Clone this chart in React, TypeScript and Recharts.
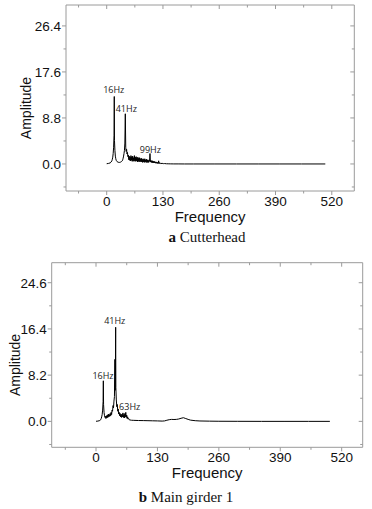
import React from 'react';
import { LineChart, Line, XAxis, YAxis, ReferenceDot } from 'recharts';

// spectrum (a) cutterhead
const cutterFreq = [
  0, 4, 8, 10, 12, 13, 14, 15, 16, 17,
  17.5, 18, 19, 20, 21, 22, 24, 26, 28, 30,
  32, 34, 36, 37, 38, 39, 40, 41, 42, 43,
  44, 45, 46, 47, 48, 49, 50, 51, 52, 53,
  54, 55, 56, 57, 58, 59, 60, 61, 62, 63,
  64, 65, 66, 67, 68, 69, 70, 71, 72, 73,
  74, 75, 76, 77, 78, 79, 80, 81, 82, 83,
  84, 85, 86, 87, 88, 89, 90, 91, 92, 93,
  94, 95, 96, 97, 98, 99, 100, 101, 102, 103,
  104, 105, 106, 107, 108, 109, 110, 111, 112, 113,
  114, 115, 116, 117, 118, 119, 120, 121, 122, 123,
  124, 125, 128, 131, 134, 138, 142, 148, 155, 165,
  180, 200, 250, 300, 350, 400, 450, 505,
];
const cutterAmp = [
  0.05, 0.1, 0.2, 0.35, 0.6, 0.9, 1.3, 2.0, 3.2, 5.5,
  12.9, 4.5, 2.6, 1.5, 1.0, 0.7, 0.45, 0.35, 0.3, 0.3,
  0.35, 0.45, 0.6, 0.8, 1.1, 1.5, 2.0, 2.6, 4.0, 9.6,
  3.2, 2.4, 2.8, 1.9, 2.2, 1.4, 1.7, 0.8, 1.5, 0.7,
  1.3, 0.6, 1.6, 0.7, 1.4, 0.5, 1.5, 0.6, 1.2, 0.5,
  1.6, 0.6, 1.3, 0.5, 1.4, 0.6, 1.2, 0.4, 1.3, 0.5,
  1.1, 0.4, 1.2, 0.5, 1.0, 0.4, 1.1, 0.4, 0.9, 0.3,
  1.0, 0.4, 0.9, 0.3, 1.0, 0.4, 0.8, 0.3, 0.9, 0.3,
  0.8, 0.3, 0.7, 0.3, 0.8, 0.5, 2.0, 0.4, 0.7, 0.3,
  0.6, 0.25, 0.6, 0.2, 0.5, 0.2, 0.5, 0.2, 0.4, 0.15,
  0.4, 0.15, 0.35, 0.1, 0.3, 0.1, 0.6, 0.1, 0.25, 0.08,
  0.2, 0.07, 0.12, 0.06, 0.08, 0.04, 0.03, 0.02, 0.01, 0.01,
  0, 0, 0, 0, 0, 0, 0, 0,
];

// spectrum (b) main girder 1
const girderFreq = [
  0, 4, 8, 10, 11, 12, 13, 14, 15, 15.5,
  16, 17, 18, 19, 20, 21, 22, 23, 24, 25,
  26, 27, 28, 29, 30, 31, 32, 33, 34, 35,
  36, 37, 38, 39, 40, 40.5, 41, 41.6, 42, 43,
  44, 45, 46, 47, 48, 49, 50, 51, 52, 53,
  54, 55, 56, 57, 58, 59, 60, 61, 62, 63,
  64, 65, 66, 67, 68, 69, 70, 72, 75, 80,
  90, 100, 110, 120, 130, 140, 145, 150, 155, 160,
  165, 170, 175, 180, 185, 190, 195, 200, 210, 220,
  240, 260, 300, 350, 400, 450, 495,
];
const girderAmp = [
  0.02, 0.05, 0.15, 0.3, 0.5, 0.8, 1.2, 2.0, 3.5, 7.2,
  3.0, 1.6, 1.0, 0.7, 0.9, 0.5, 1.0, 0.6, 1.1, 0.7,
  1.3, 0.8, 1.2, 0.9, 1.4, 1.0, 1.6, 1.2, 2.0, 1.8,
  2.8, 2.4, 3.6, 4.4, 11.0, 5.5, 8.0, 16.7, 6.0, 3.8,
  2.6, 3.0, 1.8, 2.2, 1.3, 1.6, 1.0, 1.4, 0.8, 1.2,
  0.7, 1.3, 0.8, 1.5, 0.7, 1.2, 0.6, 1.4, 0.8, 1.6,
  0.7, 1.1, 0.5, 0.8, 0.4, 0.5, 0.3, 0.25, 0.2, 0.18,
  0.15, 0.14, 0.12, 0.1, 0.08, 0.05, 0.08, 0.2, 0.3, 0.35,
  0.33, 0.35, 0.42, 0.55, 0.65, 0.5, 0.35, 0.22, 0.12, 0.07,
  0.04, 0.02, 0.01, 0, 0, 0, 0,
];

const freqTicks = [-65, 0, 65, 130, 195, 260, 325, 390, 455, 520];
const freqMajor = [0, 130, 260, 390, 520];
const cutterYTicks = [-4.4, 0, 4.4, 8.8, 13.2, 17.6, 22, 26.4];
const cutterYMajor = [0, 8.8, 17.6, 26.4];
const girderYTicks = [-4.1, 0, 4.1, 8.2, 12.3, 16.4, 20.5, 24.6];
const girderYMajor = [0, 8.2, 16.4, 24.6];

const cutterPeaks = [
  { f: 16.2, a: 14.2, text: '16Hz' },
  { f: 45.3, a: 10.5, text: '41Hz' },
  { f: 101, a: 2.7, text: '99Hz' },
];
const girderPeaks = [
  { f: 39.6, a: 17.8, text: '41Hz' },
  { f: 14.8, a: 8.0, text: '16Hz' },
  { f: 71.3, a: 2.5, text: '63Hz' },
];

const FRAME = '#9a9a9a';
const INK = '#111';
const SANS = 'Liberation Sans, Arial, sans-serif';

const bottomTick = (majors: number[]) => (p: any) => {
  const major = majors.includes(p.payload.value);
  return (
    <g>
      <line x1={p.x} x2={p.x} y1={p.y} y2={p.y + (major ? 4 : 2.5)} stroke={FRAME} />
      {major && (
        <text x={p.x} y={p.y + 15} textAnchor="middle" fontSize={13.5} fontFamily={SANS} fill={INK}>
          {p.payload.value}
        </text>
      )}
    </g>
  );
};

const topTick = (majors: number[]) => (p: any) => {
  const major = majors.includes(p.payload.value);
  return <line x1={p.x} x2={p.x} y1={p.y} y2={p.y + (major ? 4 : 2.5)} stroke={FRAME} />;
};

const leftTick = (majors: number[]) => (p: any) => {
  const major = majors.includes(p.payload.value);
  return (
    <g>
      <line x1={p.x - (major ? 4 : 2.5)} x2={p.x} y1={p.y} y2={p.y} stroke={FRAME} />
      {major && (
        <text x={p.x - 5} y={p.y + 5} textAnchor="end" fontSize={13.5} fontFamily={SANS} fill={INK}>
          {p.payload.value.toFixed(1)}
        </text>
      )}
    </g>
  );
};

const rightTick = (majors: number[]) => (p: any) => {
  const major = majors.includes(p.payload.value);
  return <line x1={p.x - (major ? 4 : 2.5)} x2={p.x} y1={p.y} y2={p.y} stroke={FRAME} />;
};

const freqLabel = ({ viewBox }: any) => (
  <text
    x={viewBox.x + viewBox.width / 2}
    y={viewBox.y + 31}
    textAnchor="middle"
    fontSize={15}
    fontFamily={SANS}
    fill={INK}
  >
    Frequency
  </text>
);

const ampLabel = (dx: number) => ({ viewBox }: any) => {
  const x = viewBox.x + viewBox.width - dx;
  const y = viewBox.y + viewBox.height / 2 + 10;
  return (
    <text
      x={x}
      y={y}
      transform={`rotate(-90 ${x} ${y})`}
      textAnchor="middle"
      dominantBaseline="central"
      fontSize={14}
      fontFamily={SANS}
      fill={INK}
    >
      Amplitude
    </text>
  );
};

interface SpectrumProps {
  freq: number[];
  amp: number[];
  width: number;
  height: number;
  margin: { top: number; right: number; bottom: number; left: number };
  yAxisWidth: number;
  xDomain: [number, number];
  yDomain: [number, number];
  yTicks: number[];
  yMajor: number[];
  peaks: { f: number; a: number; text: string }[];
  ampDx: number;
}

// top and right axes only carry the frame line and inward ticks
const Spectrum: React.FC<SpectrumProps> = ({
  freq, amp, width, height, margin, yAxisWidth, xDomain, yDomain, yTicks, yMajor, peaks, ampDx,
}) => {
  const data = freq.map((f, i) => ({ f, a: amp[i] }));
  return (
    <LineChart width={width} height={height} margin={margin}>
      <XAxis
        dataKey="f"
        type="number"
        domain={xDomain}
        allowDataOverflow
        ticks={freqTicks}
        interval={0}
        height={30}
        tickSize={0}
        tickMargin={0}
        tickLine={false}
        stroke={FRAME}
        tick={bottomTick(freqMajor)}
        label={{ content: freqLabel }}
      />
      <XAxis
        xAxisId="top"
        orientation="top"
        dataKey="f"
        type="number"
        domain={xDomain}
        allowDataOverflow
        ticks={freqTicks}
        interval={0}
        height={1}
        tickSize={0}
        tickMargin={0}
        tickLine={false}
        stroke={FRAME}
        tick={topTick(freqMajor)}
      />
      <YAxis
        type="number"
        domain={yDomain}
        allowDataOverflow
        ticks={yTicks}
        interval={0}
        width={yAxisWidth}
        tickSize={0}
        tickMargin={0}
        tickLine={false}
        stroke={FRAME}
        tick={leftTick(yMajor)}
        label={{ content: ampLabel(ampDx) }}
      />
      <YAxis
        yAxisId="right"
        orientation="right"
        type="number"
        domain={yDomain}
        allowDataOverflow
        ticks={yTicks}
        interval={0}
        width={1}
        tickSize={0}
        tickMargin={0}
        tickLine={false}
        stroke={FRAME}
        tick={rightTick(yMajor)}
      />
      <Line
        data={data}
        dataKey="a"
        xAxisId="top"
        yAxisId="right"
        stroke="none"
        dot={false}
        activeDot={false}
        legendType="none"
        isAnimationActive={false}
      />
      <Line
        data={data}
        dataKey="a"
        type="linear"
        stroke="#000"
        strokeWidth={1}
        dot={false}
        activeDot={false}
        isAnimationActive={false}
      />
      {peaks.map((p) => (
        <ReferenceDot
          key={p.text}
          x={p.f}
          y={p.a}
          r={0}
          fill="none"
          stroke="none"
          label={{ value: p.text, position: 'center', fontSize: 9, fill: '#222', fontFamily: 'Open Sans, sans-serif' }}
        />
      ))}
    </LineChart>
  );
};

const captionStyle: React.CSSProperties = {
  position: 'absolute',
  fontFamily: 'Liberation Serif, Times New Roman, serif',
  fontSize: 15,
  color: INK,
  whiteSpace: 'nowrap',
  transform: 'translateX(-50%)',
  lineHeight: '16px',
};

export default function App() {
  return (
    <div style={{ position: 'absolute', left: 0, top: 0, width: 372, height: 509, background: '#fff', overflow: 'hidden' }}>
      <div style={{ position: 'absolute', left: 0, top: 0 }}>
        <Spectrum
          freq={cutterFreq}
          amp={cutterAmp}
          width={372}
          height={250}
          margin={{ top: 4, right: 16.7, bottom: 29, left: 6 }}
          yAxisWidth={60}
          xDomain={[-94, 572]}
          yDomain={[-5.17, 30.4]}
          yTicks={cutterYTicks}
          yMajor={cutterYMajor}
          peaks={cutterPeaks}
          ampDx={40}
        />
      </div>
      <div style={{ position: 'absolute', left: 0, top: 250 }}>
        <Spectrum
          freq={girderFreq}
          amp={girderAmp}
          width={372}
          height={259}
          margin={{ top: 11.7, right: 8.3, bottom: 31.7, left: 6.7 }}
          yAxisWidth={45}
          xDomain={[-93.8, 564.5]}
          yDomain={[-4.6, 28.15]}
          yTicks={girderYTicks}
          yMajor={girderYMajor}
          peaks={girderPeaks}
          ampDx={37}
        />
      </div>
      <div style={{ ...captionStyle, left: 207, top: 229 }}>
        <b>a</b> Cutterhead
      </div>
      <div style={{ ...captionStyle, left: 186, top: 489 }}>
        <b>b</b> Main girder 1
      </div>
    </div>
  );
}
